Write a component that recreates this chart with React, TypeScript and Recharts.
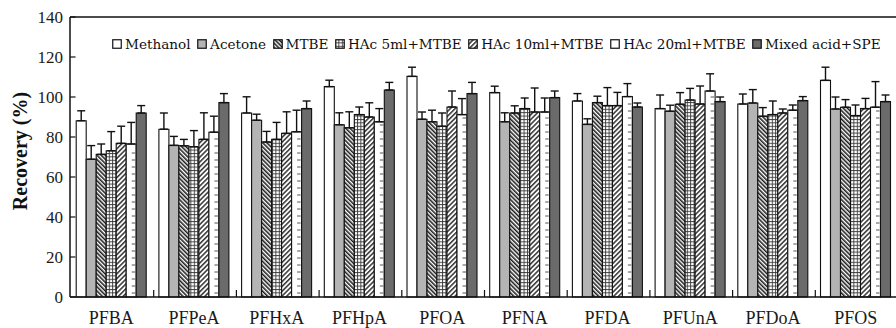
import React from 'react';
import { BarChart, Bar, XAxis, YAxis, ErrorBar, Legend, CartesianGrid } from 'recharts';

const categories = ['PFBA', 'PFPeA', 'PFHxA', 'PFHpA', 'PFOA', 'PFNA', 'PFDA', 'PFUnA', 'PFDoA', 'PFOS'];

const methanol = [88.1, 83.9, 92.0, 105.2, 110.3, 102.2, 98.0, 94.2, 96.5, 108.3];
const methanolErr = [5.0, 8.1, 8.1, 3.2, 4.6, 3.2, 3.7, 6.8, 5.0, 6.6];
const acetone = [68.9, 75.8, 88.4, 86.1, 88.9, 87.6, 86.3, 92.9, 97.0, 94.0];
const acetoneErr = [6.8, 4.5, 3.0, 6.0, 3.6, 4.5, 2.8, 3.0, 6.7, 6.0];
const mtbe = [71.3, 75.6, 77.5, 84.6, 87.6, 92.0, 97.2, 96.4, 90.4, 94.9];
const mtbeErr = [5.2, 3.2, 5.3, 8.0, 5.8, 3.6, 3.2, 5.8, 4.3, 3.8];
const hac5 = [73.1, 75.1, 78.8, 91.2, 85.4, 94.2, 95.7, 98.5, 91.2, 90.7];
const hac5Err = [9.6, 8.1, 8.5, 3.8, 6.6, 5.3, 9.0, 5.8, 6.8, 5.3];
const hac10 = [76.8, 78.8, 81.8, 90.0, 95.0, 92.5, 95.7, 96.5, 92.0, 94.2];
const hac10Err = [8.6, 13.3, 10.8, 7.1, 8.0, 12.0, 6.6, 9.0, 2.0, 5.1];
const hac20 = [76.5, 82.4, 82.6, 87.6, 91.2, 92.5, 100.2, 103.0, 93.4, 94.9];
const hac20Err = [10.8, 8.0, 10.8, 6.6, 8.0, 7.0, 6.5, 8.6, 2.6, 12.8];
const mixed = [92.0, 97.2, 94.2, 103.5, 101.7, 99.7, 95.0, 97.7, 98.2, 97.7];
const mixedErr = [3.7, 4.5, 3.8, 3.8, 5.6, 3.3, 2.0, 2.3, 2.0, 3.3];

const yTicks = [0, 20, 40, 60, 80, 100, 120, 140];

const data = categories.map((cat, i) => ({
  cat,
  methanol: methanol[i],
  methanolErr: [0, methanolErr[i]],
  acetone: acetone[i],
  acetoneErr: [0, acetoneErr[i]],
  mtbe: mtbe[i],
  mtbeErr: [0, mtbeErr[i]],
  hac5: hac5[i],
  hac5Err: [0, hac5Err[i]],
  hac10: hac10[i],
  hac10Err: [0, hac10Err[i]],
  hac20: hac20[i],
  hac20Err: [0, hac20Err[i]],
  mixed: mixed[i],
  mixedErr: [0, mixedErr[i]],
}));

const SERIES = [
  { key: 'methanol', name: 'Methanol', fill: '#ffffff', swatch: '#ffffff' },
  { key: 'acetone', name: 'Acetone', fill: '#b4b4b4', swatch: '#b4b4b4' },
  { key: 'mtbe', name: 'MTBE', fill: 'url(#patMtbe)', swatch: 'url(#patMtbe)' },
  { key: 'hac5', name: 'HAc 5ml+MTBE', fill: 'url(#patGrid)', swatch: 'url(#patGrid)' },
  { key: 'hac10', name: 'HAc 10ml+MTBE', fill: 'url(#patHac10)', swatch: 'url(#patHac10)' },
  { key: 'hac20', name: 'HAc 20ml+MTBE', fill: '#ffffff', swatch: '#ffffff' },
  { key: 'mixed', name: 'Mixed acid+SPE', fill: '#6b6b6b', swatch: '#6b6b6b' },
];

const SERIF = '"Liberation Serif", "Times New Roman", serif';

const DashBar = (props: any) => {
  const { x, y, width, height } = props;
  if (!height || height <= 0) return null;
  const dashes = [];
  for (let yy = y + height - 4; yy > y + 2; yy -= 7) {
    dashes.push(
      <line key={yy} x1={x + width - 4.5} x2={x + width - 1} y1={yy} y2={yy} stroke="#555" strokeWidth={1} />
    );
  }
  return (
    <g>
      <rect x={x} y={y} width={width} height={height} fill="#fff" stroke="#111" strokeWidth={1.1} />
      {dashes}
    </g>
  );
};

// category boundaries from the chart's own x scale (band starts of categories 2..n)
const boundaryGenerator = (args: any) => {
  const xAxis = args && args.xAxis;
  const s = xAxis && xAxis.scale;
  if (s && typeof s === 'function' && typeof s.bandwidth === 'function') {
    const pts = categories.slice(1).map((c) => s(c));
    if (pts.every((p: any) => typeof p === 'number' && !isNaN(p))) return pts;
  }
  const off = (args && args.offset) || {};
  const left = typeof off.left === 'number' ? off.left : 70;
  const w = typeof off.width === 'number' ? off.width : 827;
  return categories.slice(1).map((_, i) => left + ((i + 1) * w) / categories.length);
};

const VerticalTick = (props: any) => {
  const { x1, y1, y2 } = props;
  if (typeof x1 !== 'number') return null;
  const bottom = Math.max(y1, y2);
  return <line x1={x1 + 1} x2={x1 + 1} y1={bottom} y2={bottom - 7} stroke="#111" strokeWidth={1.2} />;
};

const HorizontalTick = (props: any) => {
  const { x1, x2, y1 } = props;
  if (typeof y1 !== 'number') return null;
  const left = Math.min(x1, x2);
  return <line x1={left} x2={left + 5.5} y1={y1} y2={y1} stroke="#111" strokeWidth={1.2} />;
};

const renderLegend = () => (
  <div
    style={{
      display: 'flex',
      alignItems: 'center',
      fontFamily: '"DejaVu Serif", serif',
      fontSize: 13.6,
      color: '#111',
      whiteSpace: 'nowrap',
    }}
  >
    {SERIES.map((s) => (
      <div key={s.key} style={{ display: 'flex', alignItems: 'center', marginRight: 6.5 }}>
        <svg width={10} height={10} style={{ marginRight: 3 }}>
          <rect x={0.75} y={0.75} width={8.5} height={8.5} fill={s.swatch} stroke="#111" strokeWidth={1.2} />
        </svg>
        <span>{s.name}</span>
      </div>
    ))}
  </div>
);

const YLabel = (props: any) => {
  const vb = props.viewBox || {};
  const cx = 20;
  const cy = (vb.y || 0) + (vb.height || 0) / 2 - 6;
  return (
    <text
      x={cx}
      y={cy}
      transform={`rotate(-90 ${cx} ${cy})`}
      textAnchor="middle"
      dominantBaseline="central"
      fontFamily={SERIF}
      fontWeight="bold"
      fontSize={20}
      fill="#111"
    >
      Recovery (%)
    </text>
  );
};

export default function App() {
  return (
    <div
      style={{
        position: 'absolute',
        left: 0,
        top: 0,
        width: 896,
        height: 328,
        overflow: 'hidden',
        background: '#fff',
      }}
    >
      <BarChart
        width={900}
        height={328}
        data={data}
        margin={{ top: 16, right: 3, left: 0, bottom: 0 }}
        barCategoryGap="7.5%"
        barGap={0}
      >
        <defs>
          <pattern id="patMtbe" width="3" height="3" patternUnits="userSpaceOnUse" patternTransform="rotate(-45)">
            <rect width="3" height="3" fill="#fff" />
            <line x1="0.8" y1="0" x2="0.8" y2="3" stroke="#111" strokeWidth="1.5" />
          </pattern>
          <pattern id="patHac10" width="3.4" height="3.4" patternUnits="userSpaceOnUse" patternTransform="rotate(45)">
            <rect width="3.4" height="3.4" fill="#fff" />
            <line x1="0.8" y1="0" x2="0.8" y2="3.4" stroke="#111" strokeWidth="1.3" />
          </pattern>
          <pattern id="patGrid" width="3.4" height="3.4" patternUnits="userSpaceOnUse">
            <rect width="3.4" height="3.4" fill="#fff" />
            <line x1="0.5" y1="0" x2="0.5" y2="3.4" stroke="#333" strokeWidth="0.9" />
            <line x1="0" y1="0.5" x2="3.4" y2="0.5" stroke="#333" strokeWidth="0.9" />
          </pattern>
        </defs>
        <CartesianGrid
          xAxisId={1}
          stroke="#111"
          vertical={VerticalTick}
          horizontal={HorizontalTick}
          verticalCoordinatesGenerator={boundaryGenerator}
        />
        <XAxis
          xAxisId={1}
          dataKey="cat"
          height={31}
          tickLine={false}
          tickSize={0}
          tickMargin={14}
          interval={0}
          axisLine={{ stroke: '#111', strokeWidth: 1.5 }}
          tick={{ fontSize: 18, fill: '#1a1a1a', fontFamily: SERIF }}
        />
        <XAxis
          xAxisId={2}
          dataKey="cat"
          orientation="top"
          height={1}
          tick={false}
          tickLine={false}
          axisLine={{ stroke: '#111', strokeWidth: 1.5 }}
        />
        <YAxis
          width={70}
          domain={[0, 140]}
          ticks={yTicks}
          interval={0}
          tickLine={false}
          tickSize={0}
          tickMargin={7}
          axisLine={{ stroke: '#111', strokeWidth: 1.5 }}
          tick={{ fontSize: 17, fill: '#1a1a1a', fontFamily: SERIF }}
          label={<YLabel />}
        />
        <Legend
          layout="vertical"
          align="center"
          verticalAlign="middle"
          content={renderLegend}
          wrapperStyle={{ top: 36, left: 112, width: 'auto' }}
        />
        {SERIES.map((s) => (
          <Bar
            key={s.key}
            xAxisId={1}
            dataKey={s.key}
            name={s.name}
            fill={s.fill}
            stroke="#111"
            strokeWidth={1.1}
            isAnimationActive={false}
            shape={s.key === 'hac20' ? DashBar : undefined}
          >
            <ErrorBar dataKey={`${s.key}Err`} width={4} stroke="#111" strokeWidth={1.4} direction="y" />
          </Bar>
        ))}
      </BarChart>
    </div>
  );
}
